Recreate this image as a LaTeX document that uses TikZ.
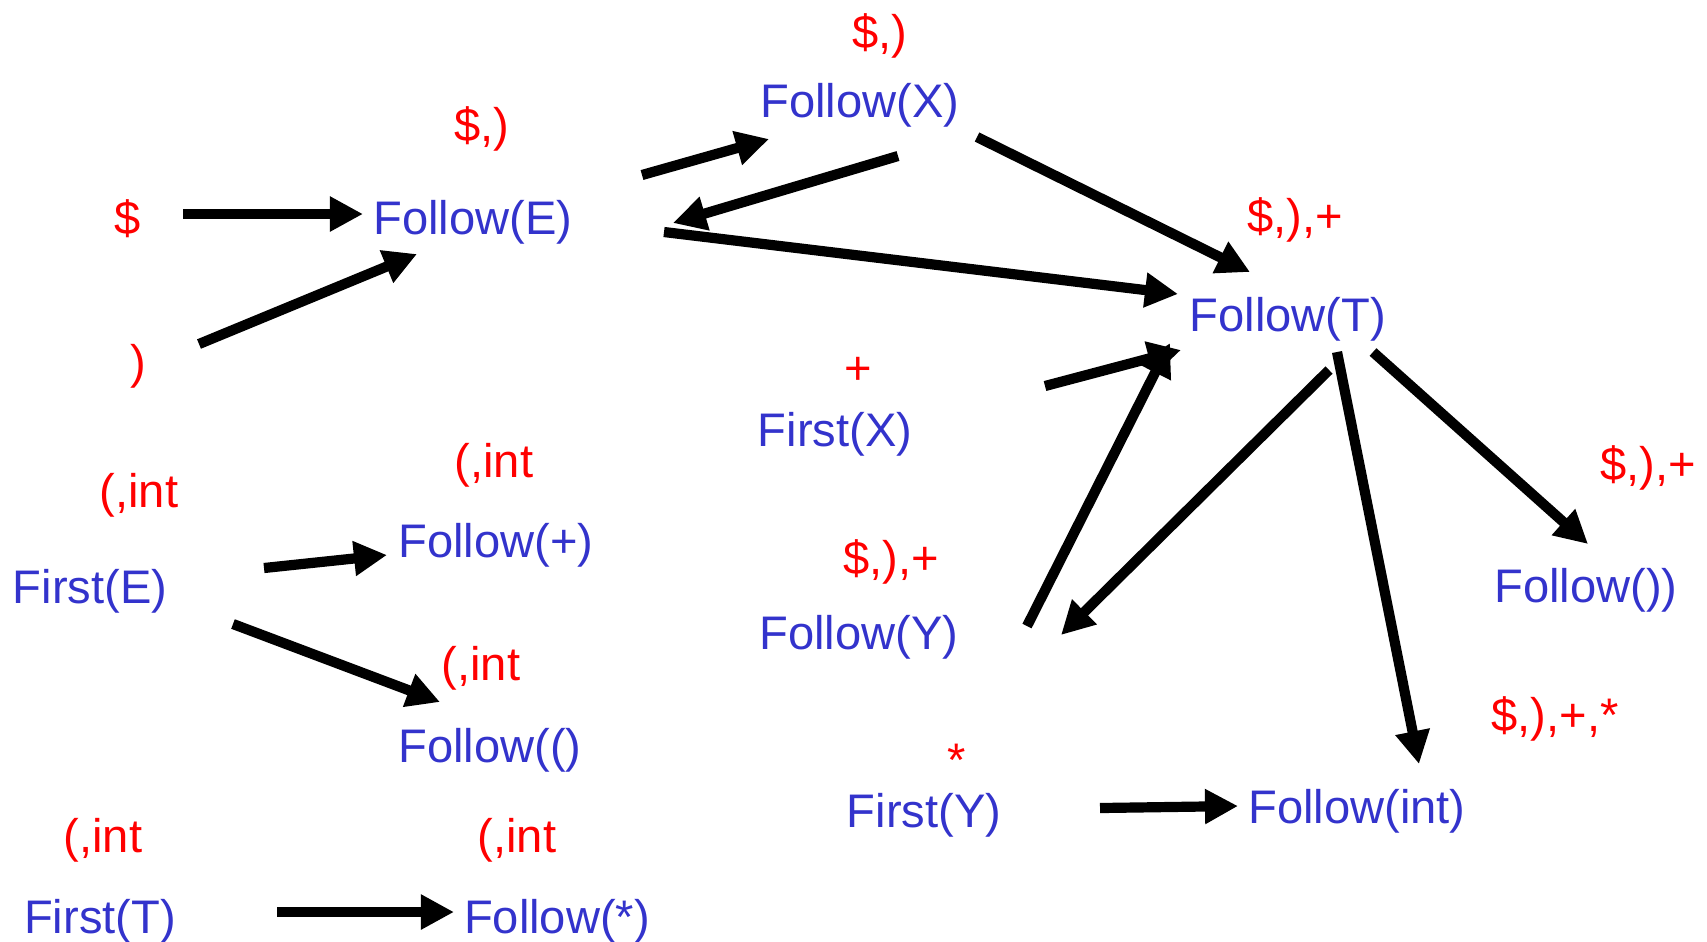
\documentclass[tikz,border=0pt]{standalone}
\usepackage{fontspec}
\setmainfont{Liberation Sans}
\usetikzlibrary{arrows.meta,calc}
\definecolor{setblue}{RGB}{51,51,204}
\definecolor{setred}{RGB}{255,0,0}
\begin{document}
\begin{tikzpicture}[x=0.01cm,y=-0.01cm,
  setname/.style={anchor=base,inner sep=0pt,text=setblue,font=\fontsize{13.4pt}{16pt}\selectfont},
  setval/.style={anchor=base,inner sep=0pt,text=setred,font=\fontsize{13.4pt}{16pt}\selectfont},
  arr/.style={line width=2.9pt,-{Triangle[length=0.33cm,width=0.33cm]}}]
\useasboundingbox (0,0) rectangle (1707,941);

% sets
\node[setname] (FX)    at (860,117) {Follow(X)};
\node[setname] (FE)    at (473,234) {Follow(E)};
\node[setname] (FT)    at (1288,331) {Follow(T)};
\node[setname] (FiX)   at (835,446) {First(X)};
\node[setname] (FY)    at (859,649) {Follow(Y)};
\node[setname] (FRP)   at (1586,602) {Follow())};
\node[setname] (FInt)  at (1357,823) {Follow(int)};
\node[setname] (FiY)   at (924,827) {First(Y)};
\node[setname] (FiE)   at (90,603) {First(E)};
\node[setname] (Fplus) at (496,557) {Follow(+)};
\node[setname] (FLP)   at (490,762) {Follow(()};
\node[setname] (FiT)   at (100,933) {First(T)};
\node[setname] (FStar) at (557,933) {Follow(*)};

% start symbols
\node[setval] (dollar) at (128,234) {\$};
\node[setval] (rpar)   at (138,378) {)};

% computed contents
\node[setval] (vFX)    at (880,48)   {\$,)};
\node[setval] (vFE)    at (482,141)  {\$,)};
\node[setval] (vFT)    at (1295,232) {\$,),+};
\node[setval] (vFiX)   at (858,384)  {+};
\node[setval] (vFY)    at (891,574)  {\$,),+};
\node[setval] (vFRP)   at (1648,480) {\$,),+};
\node[setval] (vFInt)  at (1555,731) {\$,),+,*};
\node[setval] (vFiY)   at (957,776)  {*};
\node[setval] (vFiE)   at (139,507)  {(,int};
\node[setval] (vFplus) at (494,477)  {(,int};
\node[setval] (vFLP)   at (481,680)  {(,int};
\node[setval] (vFiT)   at (103,852)  {(,int};
\node[setval] (vFStar) at (517,852)  {(,int};

% propagation edges
\draw[arr] ($(dollar.base)+(55,-20)$) -- ($(FE.base)+(-110,-20)$);
\draw[arr] ($(rpar.base)+(61,-34)$) -- ($(FE.base)+(-56,20)$);
\draw[arr] ($(FE.base)+(169,-59)$) -- ($(FX.base)+(-91,22)$);
\draw[arr] ($(FX.base)+(38,39)$) -- ($(FE.base)+(200,-11)$);
\draw[arr] ($(FE.base)+(191,-2)$) -- ($(FT.base)+(-110,-37)$);
\draw[arr] ($(FX.base)+(117,20)$) -- ($(FT.base)+(-38,-59)$);
\draw[arr] ($(FiX.base)+(210,-60)$) -- ($(FT.base)+(-107,19)$);
\draw[arr] ($(FY.base)+(168,-23)$) -- ($(FT.base)+(-118,12)$);
\draw[arr] ($(FT.base)+(41,39)$) -- ($(FY.base)+(202,-14)$);
\draw[arr] ($(FT.base)+(49,21)$) -- ($(FInt.base)+(62,-59)$);
\draw[arr] ($(FT.base)+(85,21)$) -- ($(FRP.base)+(2,-58)$);
\draw[arr] ($(FiE.base)+(174,-35)$) -- ($(Fplus.base)+(-109,-2)$);
\draw[arr] ($(FiE.base)+(143,21)$) -- ($(FLP.base)+(-50,-60)$);
\draw[arr] ($(FiY.base)+(176,-19)$) -- ($(FInt.base)+(-119,-17)$);
\draw[arr] ($(FiT.base)+(177,-21)$) -- ($(FStar.base)+(-103,-21)$);
\end{tikzpicture}
\end{document}
